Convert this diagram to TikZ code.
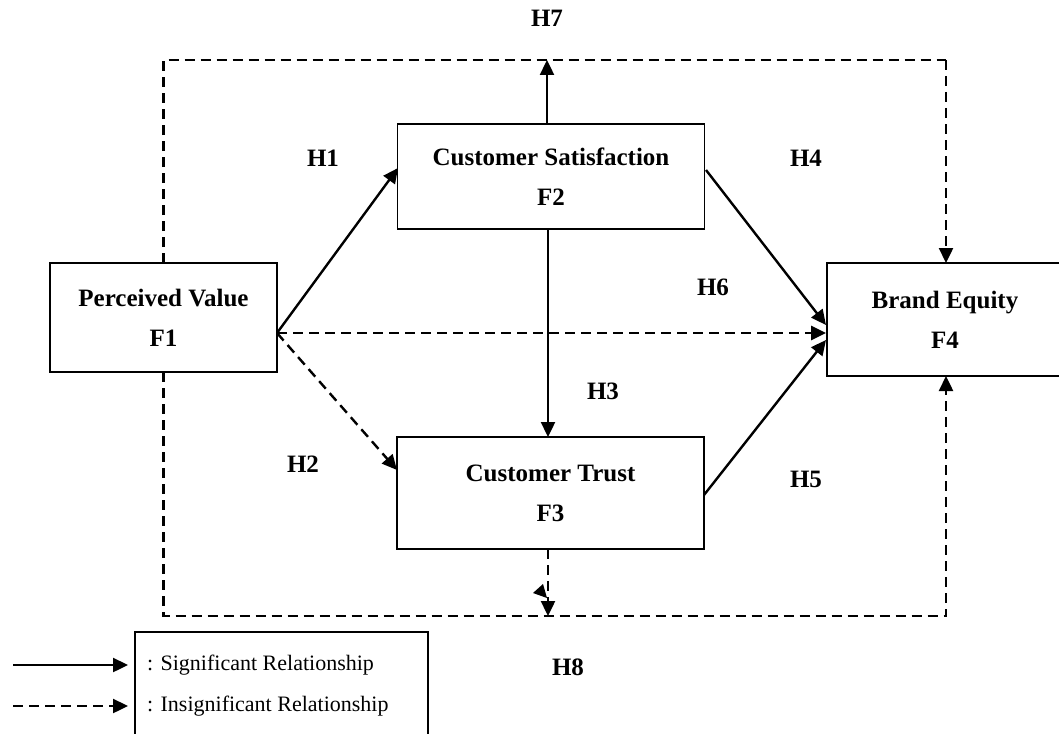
\documentclass[tikz,border=0pt]{standalone}
\usepackage{fontspec}
\setmainfont{Liberation Serif}
\usetikzlibrary{arrows.meta}
\begin{document}
\begin{tikzpicture}[x=1pt,y=-1pt,
    box/.style={draw,line width=1.8pt,fill=white,align=center,inner sep=0pt,
      font=\fontsize{25}{40}\selectfont\bfseries},
    hlabel/.style={font=\fontsize{25}{30}\selectfont\bfseries},
    sig/.style={line width=2.4pt,-{Triangle[length=15pt,width=14pt]}},
    insig/.style={sig,dash pattern=on 10pt off 6pt},
    legtext/.style={anchor=west,inner sep=0pt,font=\fontsize{22}{26}\selectfont}]
  \useasboundingbox (0,0) rectangle (1059,733);
  \coordinate (h7top) at (547,60);
  \coordinate (h8bot) at (548,616);
  \coordinate (pvout) at (277,333);
  \draw[insig,-] (163.5,263) -- (163.5,60) -- (946,60);
  \draw[insig] (946,60) -- (946,263);
  \draw[insig] (163.5,372) -- (163.5,616) -- (946,616) -- (946,376);
  \node[box,minimum width=227pt,minimum height=109pt] (pv) at (163.5,317.5) {Perceived Value\\F1};
  \node[box,minimum width=307pt,minimum height=105pt] (cs) at (551,176.5) {Customer Satisfaction\\F2};
  \node[box,minimum width=307pt,minimum height=112pt] (ct) at (550.5,493) {Customer Trust\\F3};
  \node[box,minimum width=236pt,minimum height=113pt] (be) at (945,319.5) {Brand Equity\\F4};
  \coordinate (csout) at (706,170);
  \coordinate (ctout) at (704,495);
  \draw[sig] (pvout) -- (398,168);
  \draw[insig] (pvout) -- (397,470);
  \draw[insig] (pvout) -- (be.west |- pvout);
  \draw[sig] (csout) -- (826,325);
  \draw[sig] (ctout) -- (826,340);
  \draw[sig] (548,229) -- (548,437);
  \draw[sig] (547,124) -- (h7top);
  \draw[insig] (548,549) -- (h8bot);
  \fill (533,593) -- (543,584) -- (547,598) -- cycle;
  \node[hlabel] (h1) at (323,158) {H1};
  \node[hlabel] (h2) at (303,464) {H2};
  \node[hlabel] (h3) at (603,391) {H3};
  \node[hlabel] (h4) at (806,158) {H4};
  \node[hlabel] (h5) at (806,479) {H5};
  \node[hlabel] (h6) at (713,287) {H6};
  \node[hlabel] (h7) at (547,18) {H7};
  \node[hlabel] (h8) at (568,667) {H8};
  \draw[line width=1.2pt] (135,735) -- (135,632) -- (428,632) -- (428,735);
  \coordinate (sigfrom) at (13,665);
  \coordinate (sigto) at (128,665);
  \coordinate (insigfrom) at (13,706);
  \coordinate (insigto) at (128,706);
  \draw[sig] (sigfrom) -- (sigto);
  \draw[insig] (insigfrom) -- (insigto);
  \node[legtext] (sigtext) at (147,665) {: Significant Relationship};
  \node[legtext] (insigtext) at (147,706) {: Insignificant Relationship};
\end{tikzpicture}
\end{document}
